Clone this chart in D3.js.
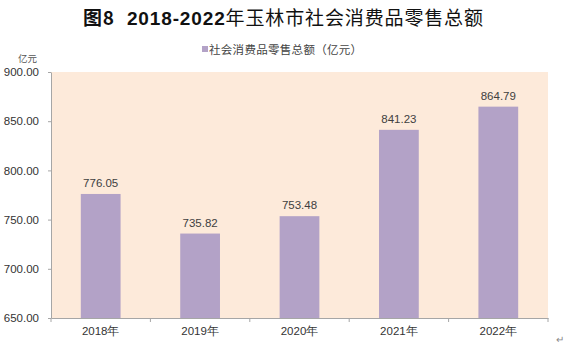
<!DOCTYPE html>
<html><head><meta charset="utf-8">
<script src="https://cdn.jsdelivr.net/npm/d3@7"></script>
<style>body{margin:0;background:#fff;}svg{display:block;font-family:"Noto Sans CJK SC","Liberation Sans",sans-serif;}</style>
</head><body>
<svg id="c" width="573" height="347"></svg>
<script>
const categories = ["2018年","2019年","2020年","2021年","2022年"];
const values = [776.05, 735.82, 753.48, 841.23, 864.79];
const yTicks = [650, 700, 750, 800, 850, 900];
const titleParts = ["图8", "2018-2022", "年玉林市社会消费品零售总额"];
const seriesName = "社会消费品零售总额（亿元）";
const unit = "亿元";

const svg = d3.select("#c");
const L = 51, R = 548, T = 72, B = 318;
const x = d3.scaleBand().domain(categories).range([L, R]).paddingInner(0.6).paddingOuter(0.3);
const xb = d3.scaleBand().domain(categories).range([L, R]);
const y = d3.scaleLinear().domain([650, 900]).range([B, T]);

svg.append("rect").attr("x", L).attr("y", T).attr("width", R - L).attr("height", B - T).attr("fill", "#FDEADA");

svg.selectAll(".bar").data(values).enter().append("rect")
  .attr("x", (d, i) => x(categories[i]))
  .attr("y", d => y(d))
  .attr("width", x.bandwidth())
  .attr("height", d => B - y(d))
  .attr("fill", "#B3A2C7");

svg.selectAll(".vl").data(values).enter().append("text")
  .attr("x", (d, i) => x(categories[i]) + x.bandwidth() / 2)
  .attr("y", d => y(d) - 7)
  .attr("text-anchor", "middle").attr("font-size", 11.5).attr("fill", "#404040")
  .attr("font-family", "Liberation Sans, sans-serif")
  .text(d => d.toFixed(2));

// y axis
const ya = svg.append("g").attr("transform", `translate(${L},0)`)
  .call(d3.axisLeft(y).tickValues(yTicks).tickFormat(d => d.toFixed(2)).tickSizeInner(3).tickSizeOuter(0));
ya.select(".domain").attr("stroke", "#A6A6A6");
ya.selectAll("line").attr("stroke", "#A6A6A6");
ya.selectAll("text").attr("font-size", 11.5).attr("fill", "#333").attr("font-family", "Liberation Sans, sans-serif").attr("x", -12);

// x axis
const xa = svg.append("g").attr("transform", `translate(0,${B})`)
  .call(d3.axisBottom(xb).tickSize(0).tickSizeOuter(0));
xa.select(".domain").attr("stroke", "#A6A6A6");
xa.selectAll("text").attr("font-size", 11.5).attr("fill", "#333").attr("dy", "1.25em");
const bounds = [L].concat(categories.map(c => xb(c) + xb.bandwidth()));
svg.selectAll(".xt").data(bounds).enter().append("line")
  .attr("x1", d => d).attr("x2", d => d).attr("y1", B).attr("y2", B + 4)
  .attr("stroke", "#A6A6A6");

// title
const tt = svg.append("text").attr("x", 83).attr("y", 25)
  .attr("font-size", 19).attr("fill", "#111")
  .attr("textLength", 400).attr("lengthAdjust", "spacing");
tt.append("tspan").attr("font-weight", "bold").text(titleParts[0]);
tt.append("tspan").attr("dx", 12).attr("font-weight", "bold").attr("font-family", "Liberation Sans, sans-serif").text(titleParts[1]);
tt.append("tspan").text(titleParts[2]);

svg.append("rect").attr("x", 202).attr("y", 46).attr("width", 6).attr("height", 6).attr("fill", "#B3A2C7");
svg.append("text").attr("x", 209).attr("y", 54).attr("font-size", 11.5).attr("letter-spacing", 0.3).attr("fill", "#444").text(seriesName);

svg.append("text").attr("x", 37).attr("y", 62).attr("text-anchor", "end").attr("font-size", 9.5).attr("fill", "#555").text(unit);

svg.append("text").attr("x", 556).attr("y", 343).attr("font-size", 10).attr("fill", "#888").text("↵");
</script>
</body></html>
